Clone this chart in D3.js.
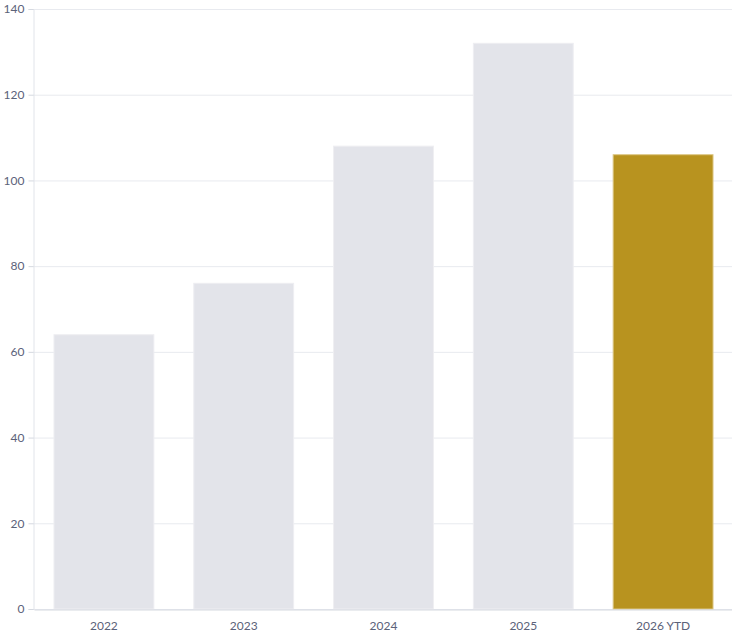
<!DOCTYPE html>
<html lang="en">
<head>
<meta charset="UTF-8">
<title>Bars by year</title>
<script src="https://d3js.org/d3.v7.min.js"></script>
<style>
  body { margin: 0; background: #fff; }
  text { font-family: Lato, "Open Sans", sans-serif; }
</style>
</head>
<body>
<script>
// data
var years = ["2022", "2023", "2024", "2025", "2026 YTD"];
var values = [64, 76, 108, 132, 106];
var yTicks = [0, 20, 40, 60, 80, 100, 120, 140];

var width = 732, height = 637;
var margin = { top: 9, right: -1, bottom: 28, left: 33 };

var svg = d3.select("body").append("svg")
  .attr("width", width)
  .attr("height", height);

var x = d3.scaleBand()
  .domain(years)
  .range([margin.left + 1, width - margin.right])
  .paddingInner(0.2857)
  .paddingOuter(0.1429);

var y = d3.scaleLinear()
  .domain([0, 140])
  .range([height - margin.bottom, margin.top]);

// grid lines
svg.append("g")
  .selectAll("line")
  .data(yTicks)
  .join("line")
  .attr("x1", margin.left)
  .attr("x2", width)
  .attr("y1", function (d) { return y(d) + 0.5; })
  .attr("y2", function (d) { return y(d) + 0.5; })
  .attr("stroke", "#e8eaef")
  .attr("stroke-width", 1);

// bars
svg.append("g")
  .selectAll("rect")
  .data(values)
  .join("rect")
  .attr("x", function (d, i) { return x(years[i]); })
  .attr("y", function (d) { return y(d); })
  .attr("width", x.bandwidth())
  .attr("height", function (d) { return y(0) - y(d); })
  .attr("fill", function (d, i) { return i === years.length - 1 ? "#b8931f" : "#e3e4ea"; })
  .attr("stroke", function (d, i) { return i === years.length - 1 ? "#dcc684" : "#eeeef2"; })
  .attr("stroke-width", 1);

// y axis
var yAxis = d3.axisLeft(y).tickValues(yTicks).tickSize(5).tickPadding(4);
var gy = svg.append("g")
  .attr("transform", "translate(" + (margin.left + 0.5) + ",0)")
  .call(yAxis);
gy.select(".domain").attr("stroke", "#e1e4ea");
gy.selectAll(".tick line").attr("stroke", "#d5d9e0");
gy.selectAll(".tick text")
  .attr("fill", "#5b6279")
  .attr("font-size", "12px")
  .style("font-family", "Lato, sans-serif");

// x axis
var xAxis = d3.axisBottom(x).tickSize(0).tickPadding(12);
var gx = svg.append("g")
  .attr("transform", "translate(0," + (y(0) + 0.5) + ")")
  .call(xAxis);
gx.select(".domain").attr("stroke", "#d5d9e0");
gx.selectAll(".tick text")
  .attr("fill", "#5b6279")
  .attr("font-size", "12px")
  .style("font-family", "Lato, sans-serif");
</script>
</body>
</html>
